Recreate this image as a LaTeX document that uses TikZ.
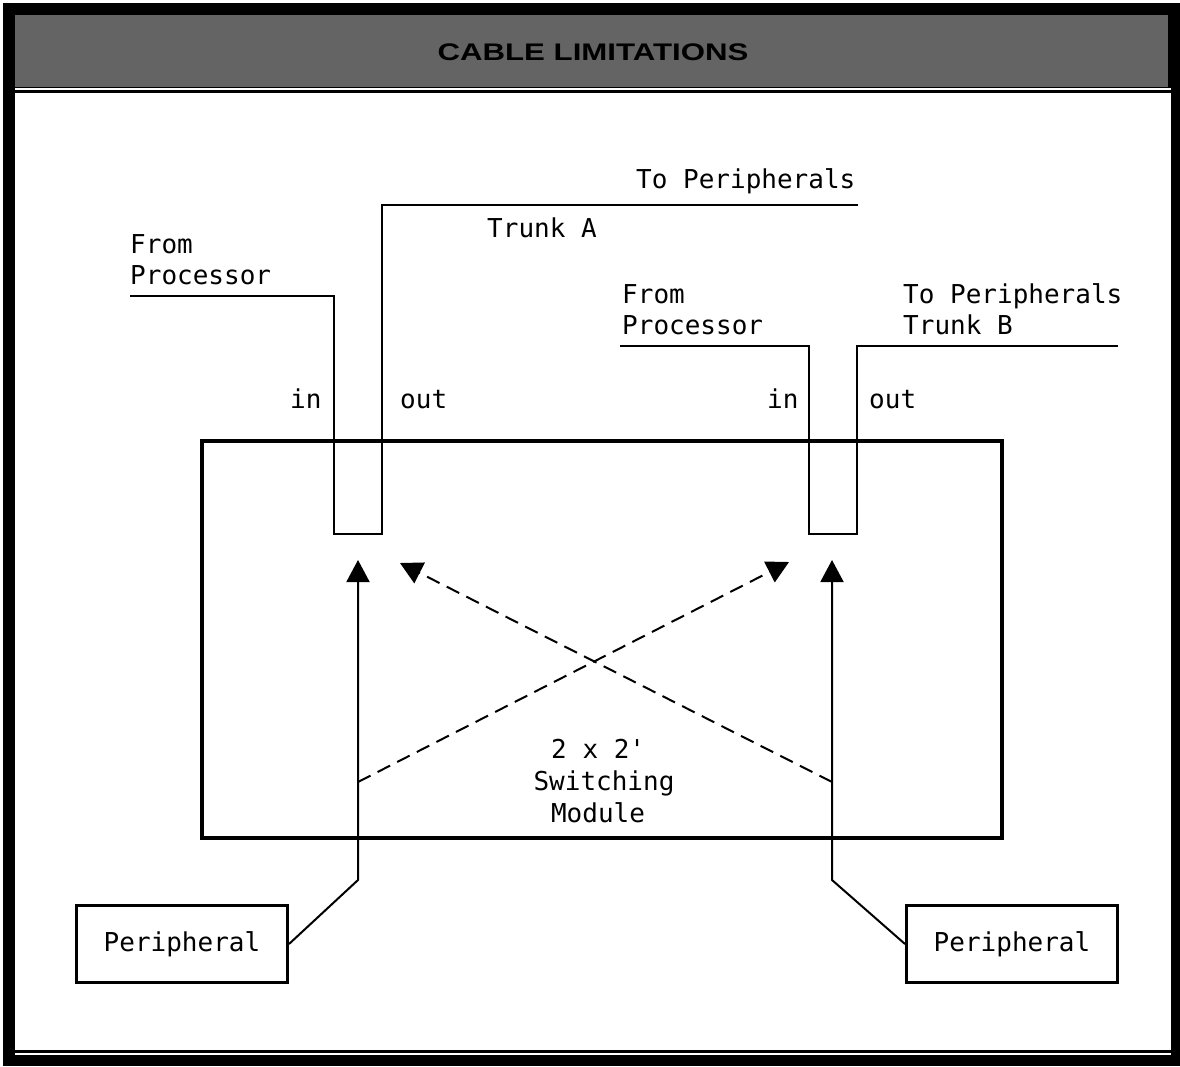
\documentclass[tikz,border=0pt]{standalone}
\usepackage{fontspec}
\newfontfamily\monofont{DejaVu Sans Mono}
\newfontfamily\titlefont{Liberation Sans}
\usetikzlibrary{arrows.meta}
\definecolor{bandgray}{RGB}{100,100,100}
\begin{document}
\begin{tikzpicture}[x=1pt,y=-1pt,
  wire/.style={line width=2.8pt, line join=miter},
  box/.style={draw, line width=3pt, rectangle, inner sep=0pt},
  lbl/.style={font=\monofont\fontsize{26}{32}\selectfont, inner sep=0pt, anchor=base west},
  ctr/.style={font=\monofont\fontsize{26}{32}\selectfont, inner sep=0pt, anchor=base},
  feed/.style={line width=2pt, -{Triangle[width=23pt,length=22pt]}},
  cross/.style={line width=2pt, dash pattern=on 14pt off 8pt, -{Triangle[width=23pt,length=22pt]}}
]
\useasboundingbox (0,0) rectangle (1180,1066);
% frame
\fill[white] (0,0) rectangle (1180,1066);
\fill[black] (3,3) rectangle (1180,1066);
\fill[bandgray] (15,15) rectangle (1168,87);
\fill[white] (15,87.5) rectangle (1171,89.5);
\fill[white] (15,93) rectangle (1171,1050);
\fill[white] (15,1053) rectangle (1171,1055);
\node[font=\titlefont\bfseries\fontsize{24}{28}\selectfont, text=black, inner sep=0pt] (title) at (593,52) {\scalebox{1.3}[1]{CABLE LIMITATIONS}};

% switching module
\node[box, line width=3.5pt, minimum width=800pt, minimum height=397pt] (mod) at (602,639.5) {};

% wires trunk A
\coordinate (fpA) at (130,296);
\coordinate (inA) at (334,296);
\coordinate (nA1) at (334,534);
\coordinate (nA2) at (382,534);
\coordinate (outA) at (382,205);
\coordinate (tpA) at (858,205);
\draw[wire] (fpA) -- (inA) -- (nA1) -- (nA2) -- (outA) -- (tpA);

% wires trunk B
\coordinate (fpB) at (620,346);
\coordinate (inB) at (809,346);
\coordinate (nB1) at (809,534);
\coordinate (nB2) at (857,534);
\coordinate (outB) at (857,346);
\coordinate (tpB) at (1118,346);
\draw[wire] (fpB) -- (inB) -- (nB1) -- (nB2) -- (outB) -- (tpB);

% labels
\node[lbl] (tpAl) at (636,188) {To Peripherals};
\node[lbl] (trA) at (487,237) {Trunk A};
\node[lbl] (fA1) at (130,253) {From};
\node[lbl] (fA2) at (130,284) {Processor};
\node[lbl] (fB1) at (622,303) {From};
\node[lbl] (fB2) at (622,334) {Processor};
\node[lbl] (tpBl) at (903,303) {To Peripherals};
\node[lbl] (trB) at (903,334) {Trunk B};
\node[lbl] (inAl) at (290,408) {in};
\node[lbl] (outAl) at (400,408) {out};
\node[lbl] (inBl) at (767,408) {in};
\node[lbl] (outBl) at (869,408) {out};
\node[lbl] (m1) at (551,758) {2 x 2'};
\node[ctr] (m2) at (604,790) {Switching};
\node[ctr] (m3) at (598,822) {Module};

% peripherals
\node[box, minimum width=211pt, minimum height=77pt, font=\monofont\fontsize{26}{32}\selectfont] (pL) at (182,944) {Peripheral};
\node[box, minimum width=211pt, minimum height=77pt, font=\monofont\fontsize{26}{32}\selectfont] (pR) at (1012,944) {Peripheral};

% arrows
\coordinate (bendL) at (358,880);
\coordinate (bendR) at (832,880);
\coordinate (tipL) at (358,560);
\coordinate (tipR) at (832,560);
\coordinate (dL) at (358,782);
\coordinate (dR) at (832,782);
\coordinate (dtipL) at (400,563);
\coordinate (dtipR) at (789,562);
\draw[feed] (pL.east) -- (bendL) -- (tipL);
\draw[feed] (pR.west) -- (bendR) -- (tipR);
\draw[cross] (dL) -- (dtipR);
\draw[cross] (dR) -- (dtipL);
\end{tikzpicture}
\end{document}
